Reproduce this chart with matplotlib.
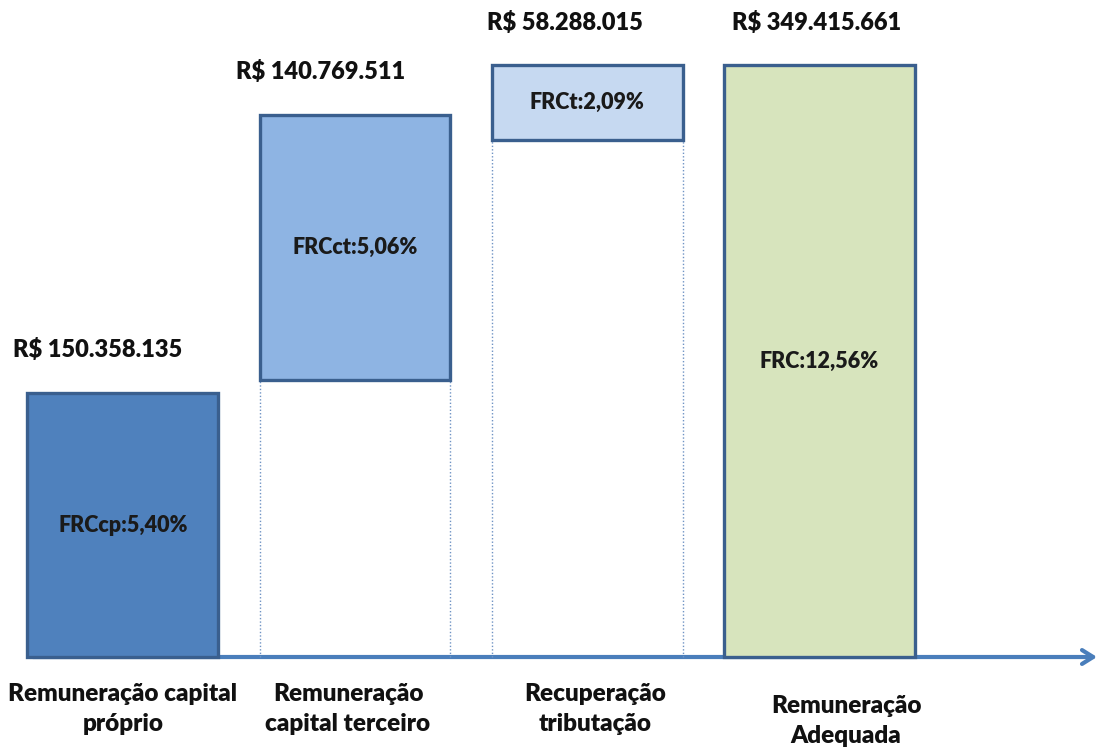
import matplotlib
matplotlib.use("Agg")
import matplotlib.pyplot as plt
import numpy as np

plt.rcParams["font.family"] = ["Lato", "DejaVu Sans"]

# ── data (R$ milhões, alturas) ──────────────────────────────────────
categorias = ["Remuneração capital\npróprio", "Remuneração\ncapital terceiro",
              "Recuperação\ntributação", "Remuneração\nAdequada"]
rotulos_valor = ["R$ 150.358.135", "R$ 140.769.511", "R$ 58.288.015", "R$ 349.415.661"]
rotulos_frc = ["FRCcp:5,40%", "FRCct:5,06%", "FRCt:2,09%", "FRC:12,56%"]
base = [0.0, 163.5, 305.1, 0.0]
topo = [155.8, 319.9, 349.4, 349.4]

cores = ["#4F81BD", "#8EB4E3", "#C6D9F1", "#D7E4BD"]
borda = "#3A5F8E"

fig = plt.figure(figsize=(11.04, 7.49), dpi=100)
ax = fig.add_axes([0, 0, 1, 1])
ax.set_xlim(-0.53, 4.228)
ax.set_ylim(-54.3, 387.8)
ax.axis("off")

x = np.arange(len(categorias))
w = 0.823
alt = np.array(topo) - np.array(base)

# eixo com seta
ax.annotate("", xy=(4.21, 0), xytext=(-0.40, 0),
            arrowprops=dict(arrowstyle="->,head_length=0.8,head_width=0.5",
                            color="#4A7EBB", lw=3), zorder=1)

# linhas pontilhadas das barras flutuantes
for xi, b in zip(x, base):
    if b > 0:
        for xe in (xi - w / 2, xi + w / 2):
            ax.plot([xe, xe], [0, b], color="#6F93C4", lw=1,
                    linestyle=(0, (1, 1.5)), zorder=1)

ax.bar(x, alt, w, bottom=base, color=cores, edgecolor=borda,
       linewidth=2.4, zorder=2)

offs = [-25, -34, -22, -3]
for xi, t, lab, o in zip(x, topo, rotulos_valor, offs):
    ax.annotate(lab, (xi, t), xytext=(o * 0.72, 31), textcoords="offset points",
                ha="center", va="center", fontsize=17, fontweight="heavy",
                color="#111111")

for xi, b, t, lab in zip(x, base, topo, rotulos_frc):
    ax.text(xi, (b + t) / 2, lab, ha="center", va="center", fontsize=15.5,
            fontweight="heavy", color="#1A1A1A")

cat_off = [(0, 0), (-7, 0), (8, 0), (27, -12)]
for xi, lab, (dx, dy) in zip(x, categorias, cat_off):
    ax.annotate(lab, (xi, 0), xytext=(dx * 0.72, (-52 + dy) * 0.72),
                textcoords="offset points", ha="center", va="center",
                fontsize=17.5, fontweight="heavy", color="#111111",
                linespacing=1.45)

fig.savefig("out.png", dpi=100)
